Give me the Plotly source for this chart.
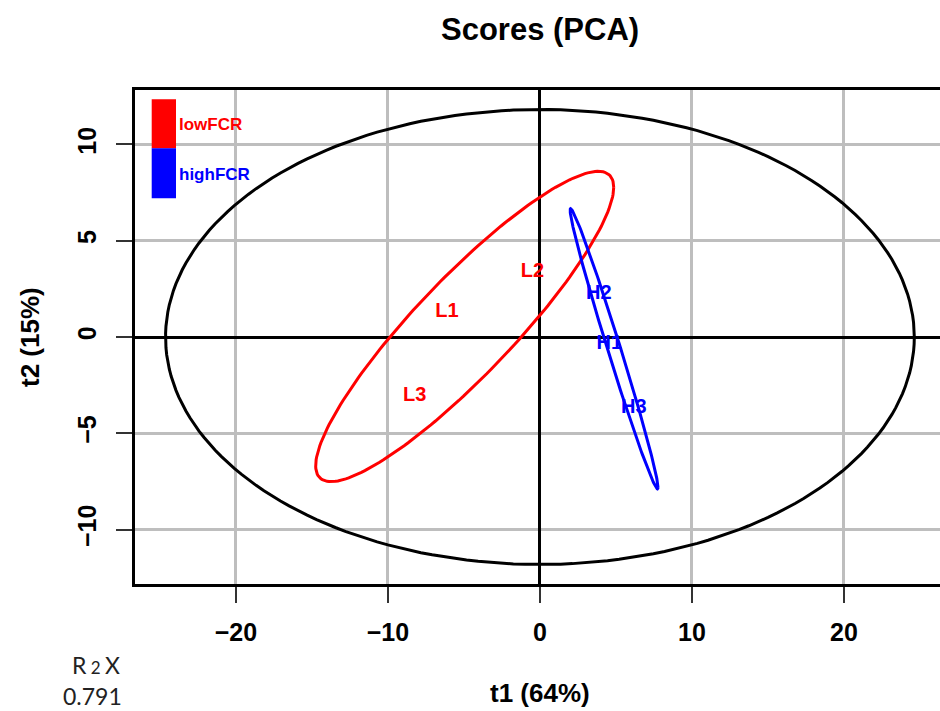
import numpy as np
import plotly.graph_objects as go

# ---- data (scores) ----
low_names = ["L1", "L2", "L3"]
low_t1 = [-6.12, -0.49, -8.24]
low_t2 = [1.31, 3.39, -3.06]

high_names = ["H1", "H2", "H3"]
high_t1 = [4.57, 3.88, 6.18]
high_t2 = [-0.36, 2.23, -3.70]

group_labels = ["lowFCR", "highFCR"]
x_ticks = [-20, -10, 0, 10, 20]
y_ticks = [-10, -5, 0, 5, 10]
r2x_value = "0.791"

RED = "#FF0000"
BLUE = "#0000FF"
FONT = "Liberation Sans, Arial, sans-serif"

theta = np.linspace(0, 2 * np.pi, 200)

# Hotelling T2 ellipse over all scores
t1_all = np.array(low_t1 + high_t1)
t2_all = np.array(low_t2 + high_t2)
n = len(t1_all)
f95 = (n - 2) / 2.0 * (0.05 ** (-2.0 / (n - 2)) - 1.0)   # F(0.95, 2, n-2)
hot = (n - 1) * 2 * (n ** 2 - 1) / (n ** 2 * (n - 2)) * f95
hx = np.sqrt(np.var(t1_all, ddof=1) * hot) * np.cos(theta)
hy = np.sqrt(np.var(t2_all, ddof=1) * hot) * np.sin(theta)

# group ellipses (95% chi-square on group covariance)
chi95 = -2.0 * np.log(0.05)


def group_ellipse(xs, ys):
    pts = np.vstack([xs, ys])
    mu = pts.mean(axis=1)
    cov = np.cov(pts)
    L = np.linalg.cholesky(cov)
    circ = np.vstack([np.cos(theta), np.sin(theta)])
    e = mu[:, None] + np.sqrt(chi95) * (L @ circ)
    return e[0], e[1]


lex, ley = group_ellipse(low_t1, low_t2)
hex_, hey = group_ellipse(high_t1, high_t2)

fig = go.Figure()
fig.add_trace(go.Scatter(x=hx, y=hy, mode="lines",
                         line=dict(color="black", width=3), hoverinfo="skip"))
fig.add_trace(go.Scatter(x=lex, y=ley, mode="lines",
                         line=dict(color=RED, width=3), hoverinfo="skip"))
fig.add_trace(go.Scatter(x=hex_, y=hey, mode="lines",
                         line=dict(color=BLUE, width=3), hoverinfo="skip"))
fig.add_trace(go.Scatter(x=low_t1, y=low_t2, mode="text",
                         text=["<b>%s</b>" % s for s in low_names],
                         textfont=dict(color=RED, size=20, family=FONT)))
fig.add_trace(go.Scatter(x=high_t1, y=high_t2, mode="text",
                         text=["<b>%s</b>" % s for s in high_names],
                         textfont=dict(color=BLUE, size=20, family=FONT)))

# plot area geometry (pixels): left 135, right 940, top 90, bottom 584
W, H = 940, 711
L_, R_, T_, B_ = 135, 0, 90, 127
pw = W - L_ - R_
ph = H - T_ - B_
px_per_x = 15.2
xmin = -26.64
xmax = xmin + pw / px_per_x


def pxX(p):
    return (p - L_) / pw


def pxY(p):
    return (H - B_ - p) / ph


axis_common = dict(
    showgrid=True, gridcolor="#bebebe", gridwidth=3,
    zeroline=True, zerolinecolor="black", zerolinewidth=3,
    ticks="outside", ticklen=16, tickwidth=1.5, tickcolor="#333333",
    tickfont=dict(family=FONT, size=25, color="black", weight="bold"),
    showline=True, linecolor="black", linewidth=3,
)

fig.update_layout(
    width=W, height=H,
    margin=dict(l=L_, r=R_, t=T_, b=B_),
    paper_bgcolor="white", plot_bgcolor="white",
    showlegend=False,
    xaxis=dict(range=[xmin, xmax], tickvals=x_ticks, mirror=True,
               ticklabelstandoff=8, **axis_common),
    yaxis=dict(range=[-12.83, 12.83], tickvals=y_ticks, tickangle=-90,
               mirror=False, ticklabelstandoff=10, **axis_common),
)

shapes = [
    dict(type="rect", xref="paper", yref="paper",
         x0=pxX(151.7), x1=pxX(176), y0=pxY(148.3), y1=pxY(99.3),
         fillcolor=RED, line=dict(width=0)),
    dict(type="rect", xref="paper", yref="paper",
         x0=pxX(151.7), x1=pxX(176), y0=pxY(198.3), y1=pxY(148.3),
         fillcolor=BLUE, line=dict(width=0)),
]
fig.update_layout(shapes=shapes)


def note(text, px, py, size, color="black", family=FONT, xanchor="center", angle=0):
    return dict(text=text, xref="paper", yref="paper", x=pxX(px), y=pxY(py),
                xanchor=xanchor, yanchor="middle", showarrow=False, textangle=angle,
                font=dict(family=family, size=size, color=color))


ann = [
    note("<b>Scores (PCA)</b>", 540, 30, 31),
    note("<b>t1 (64%)</b>", 540, 693, 26),
    note("<b>t2 (15%)</b>", 30, 337, 26, angle=-90),
    note("<b>%s</b>" % group_labels[0], 176.5, 125, 17, color=RED, xanchor="left"),
    note("<b>%s</b>" % group_labels[1], 176.5, 174, 17, color=BLUE, xanchor="left"),
    note("R<span style='font-size:17px'> 2 </span>X", 95.5, 665, 23,
         color="#222222", family="Lato, Inter, sans-serif"),
    note(r2x_value, 92.4, 696, 23, color="#222222", family="Lato, Inter, sans-serif"),
]
fig.update_layout(annotations=ann)

fig.write_html("out.html",
               config={"displayModeBar": False},
               post_script="document.body.style.margin='0px';"
                           "document.body.style.overflow='hidden';")
